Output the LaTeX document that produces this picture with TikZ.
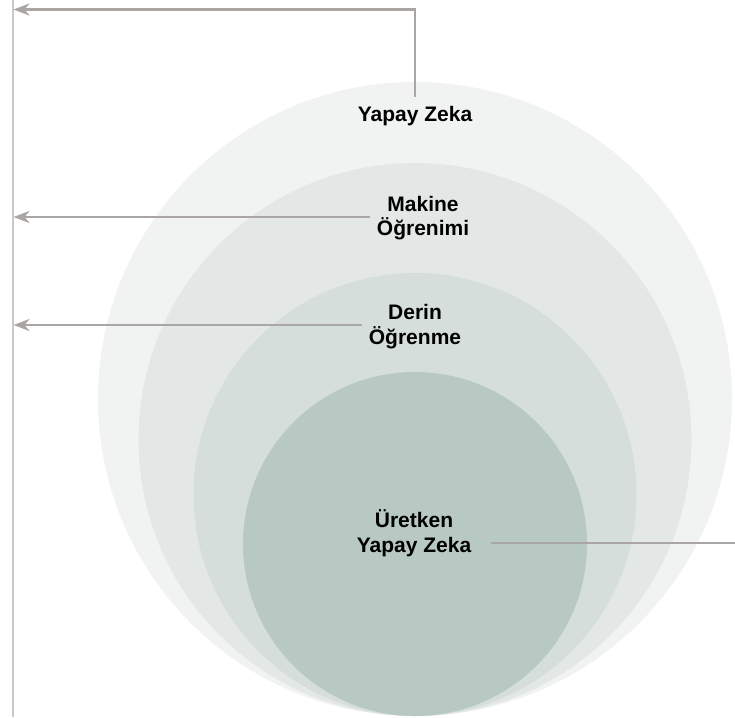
\documentclass[tikz,border=0pt]{standalone}
\usepackage{fontspec}
\setmainfont{Liberation Sans}
\usetikzlibrary{arrows.meta,positioning}
\definecolor{airing}{HTML}{F1F3F2}
\definecolor{mlring}{HTML}{E3E8E6}
\definecolor{dlring}{HTML}{D5DEDB}
\definecolor{genring}{HTML}{B8C8C3}
\definecolor{linkgray}{HTML}{A9A6A3}
\definecolor{railgray}{HTML}{C9C9C9}

\begin{document}
\begin{tikzpicture}[x=1pt,y=-1pt,
    ringlabel/.style={font=\fontsize{21}{24.5}\selectfont\bfseries, align=center, inner sep=0pt},
    link/.style={draw=linkgray, line width=2.5pt},
    linkarrow/.style={link, -{Stealth[length=16pt,width=12pt,inset=5pt]}}]
  \useasboundingbox (0,0) rectangle (735,717);
  % nested rings, all touching at the bottom
  \fill[airing]  (415,399) circle (317);
  \fill[mlring]  (415,439.5) circle (276.5);
  \fill[dlring]  (415,494.5) circle (221.5);
  \fill[genring] (415,544) circle (172);
  % labels
  \node[ringlabel] (ai)  at (415,116.5) {Yapay Zeka};
  \node[ringlabel] (ml)  at (423,218) {Makine\\Öğrenimi};
  \node[ringlabel] (dl)  at (415,326.5) {Derin\\Öğrenme};
  \node[ringlabel] (gen) at (414,533) {Üretken\\Yapay Zeka};
  % left rail
  \coordinate (railtop) at (12.5,0);
  \coordinate (railbot) at (12.5,717);
  \draw[draw=railgray, line width=2pt] (railtop) -- (railbot);
  \coordinate (aitip) at (13.5,9.5);
  \coordinate (mltip) at (13.5,217);
  \coordinate (dltip) at (13.5,325);
  \coordinate (genend) at (736,543);
  % connectors
  \draw[linkarrow] ([yshift=10pt]ai.north) |- (aitip);
  \draw[linkarrow] ([xshift=-7pt]ml.west |- mltip) -- (mltip);
  \draw[linkarrow] ([xshift=-7pt]dl.west |- dltip) -- (dltip);
  \draw[link] ([xshift=19.5pt]gen.east |- genend) -- (genend);
\end{tikzpicture}
\end{document}
